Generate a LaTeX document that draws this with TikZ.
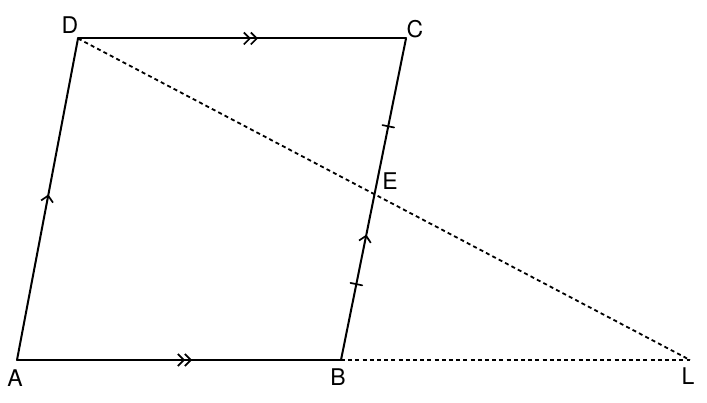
\documentclass[tikz,border=0pt]{standalone}
\usepackage{fontspec}
\setmainfont{TeX Gyre Heros}
\usetikzlibrary{arrows.meta,decorations.markings}
\tikzset{chev/.tip={Straight Barb[length=6pt,width=12pt,line width=1.7pt]}}
\begin{document}
\begin{tikzpicture}[x=1pt,y=-1pt,
  side/.style={line width=2pt, line cap=round, line join=miter},
  dots/.style={line width=1.8pt, dash pattern=on 4pt off 3.2pt},
  lab/.style={font=\fontsize{23}{27}\selectfont, inner sep=0pt},
  onearrow/.style={postaction={decorate,decoration={markings,
     mark=at position #1 with {\arrow{chev}}}}},
  twoarrow/.style 2 args={postaction={decorate,decoration={markings,
     mark=at position #1 with {\arrow{chev}},
     mark=at position #2 with {\arrow{chev}}}}},
  ticks/.style 2 args={postaction={decorate,decoration={markings,
     mark=at position #1 with {\draw[line width=1.7pt] (0pt,-6pt) -- (0pt,6pt);},
     mark=at position #2 with {\draw[line width=1.7pt] (0pt,-6pt) -- (0pt,6pt);}}}}
]
\useasboundingbox (0,0) rectangle (707,403);
\coordinate (A) at (17,360);
\coordinate (B) at (341,360);
\coordinate (C) at (406,38.5);
\coordinate (D) at (78,38.5);
\coordinate (L) at (690,360);

\draw[dots] (D) -- (L);
\draw[dots] (B) -- (L);

\draw[side, twoarrow={168pt}{175pt}] (A) -- (B);
\draw[side, twoarrow={173pt}{180pt}] (D) -- (C);
\draw[side, onearrow=0.515] (A) -- (D);
\draw[side, onearrow=0.39, ticks={0.236}{0.727}] (B) -- (C);

\node[lab] (lA) at (15,378) {A};
\node[lab] (lB) at (338,377) {B};
\node[lab] (lC) at (415,29.5) {C};
\node[lab] (lD) at (70,25) {D};
\node[lab] (lE) at (390,181) {E};
\node[lab] (lL) at (688,376) {L};
\end{tikzpicture}
\end{document}
